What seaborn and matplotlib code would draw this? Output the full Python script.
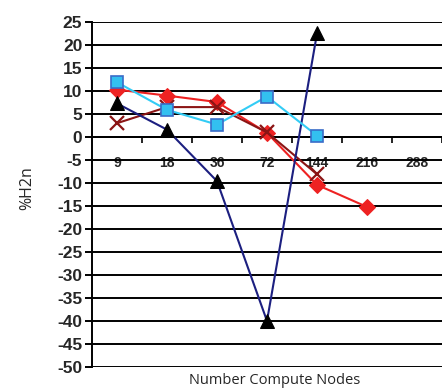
import matplotlib
matplotlib.use("Agg")
import matplotlib.pyplot as plt
import seaborn as sns
import numpy as np
import pandas as pd

# categories on the x axis
nodes = ["9", "18", "36", "72", "144", "216", "288"]

# series values (one per category, missing at the end)
red_diamond = [10.3, 9.0, 7.6, 0.9, -10.4, -15.2]
blue_square = [11.9, 5.9, 2.7, 8.8, 0.3]
navy_triangle = [7.3, 1.6, -9.6, -40.0, 22.5]
darkred_x = [3.0, 6.5, 6.5, 1.0, -8.1]

yticks = list(range(-50, 30, 5))

sns.set_style("white")
plt.rcParams['font.family'] = ['Liberation Sans', 'DejaVu Sans']

fig = plt.figure(figsize=(4.42, 3.9), dpi=100)
ax = fig.add_axes([92 / 442, 1 - 367 / 390, 1 - 92 / 442, 345 / 390])


def series_df(vals):
    return pd.DataFrame({"x": np.arange(len(vals)), "y": vals})


sns.lineplot(data=series_df(red_diamond), x="x", y="y", ax=ax, color="#ee2222",
             marker="D", markersize=8, markeredgecolor="#ee2222", linewidth=1.5, zorder=3)
sns.lineplot(data=series_df(darkred_x), x="x", y="y", ax=ax, color="#8b1515",
             marker="x", markersize=10, markeredgecolor="#8b1515", markeredgewidth=1.6,
             linewidth=1.5, zorder=3)
sns.lineplot(data=series_df(navy_triangle), x="x", y="y", ax=ax, color="#1c1f80",
             marker="^", markersize=10, markerfacecolor="black", markeredgecolor="black",
             linewidth=1.5, zorder=3)
sns.lineplot(data=series_df(blue_square), x="x", y="y", ax=ax, color="#33ccf5",
             marker="s", markersize=8, markerfacecolor="#33c0f0", markeredgecolor="#3a6cc8",
             markeredgewidth=1.2, linewidth=1.5, zorder=4)

ax.set_xlim(-0.5, 6.32)
ax.set_ylim(-50, 25)

# y axis
ax.set_yticks(yticks)
ax.set_yticklabels([str(v) for v in yticks], fontsize=12.5, fontweight="bold")
ax.yaxis.grid(True, color="black", linewidth=1.4)
ax.tick_params(axis="y", direction="out", length=5, width=1.4, color="black", pad=2, left=True)

# x axis through zero
ax.spines["bottom"].set_position(("data", 0))
ax.spines["bottom"].set_linewidth(1.4)
ax.spines["left"].set_linewidth(1.4)
ax.spines["left"].set_color("black")
ax.spines["bottom"].set_color("black")
ax.spines["top"].set_visible(False)
ax.spines["right"].set_visible(False)
ax.set_xticks(range(len(nodes)))
ax.set_xticklabels(nodes, fontsize=10, fontweight="bold")
ax.set_xticks(np.arange(0.5, len(nodes), 1), minor=True)
ax.tick_params(axis="x", which="major", length=0, pad=14)
ax.tick_params(axis="x", which="minor", direction="out", length=4, width=1.2, color="black", bottom=True)

ax.set_xlabel("")
ax.set_ylabel("")
fig.text(275 / 442, 1 - 381 / 390, "Number Compute Nodes", ha="center", va="center",
         fontsize=10.5, family=["Open Sans", "DejaVu Sans"])
fig.text(27 / 442, 1 - 188 / 390, "%H2n", ha="center", va="center", rotation=90,
         fontsize=11.5, family=["Open Sans", "DejaVu Sans"])

fig.savefig("out.png", dpi=100)
